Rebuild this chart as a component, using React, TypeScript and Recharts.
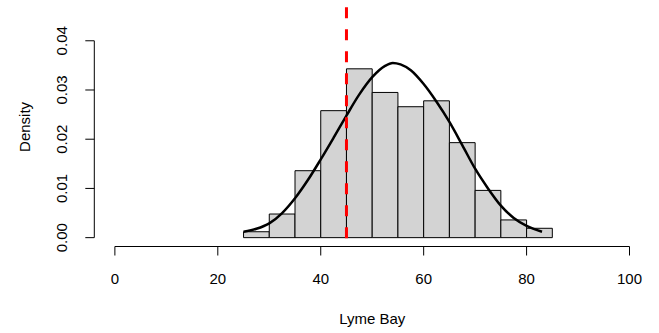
import React from 'react';
import { ComposedChart, XAxis, YAxis, Line, ReferenceArea, ReferenceLine } from 'recharts';

// Histogram bins (left edges), width 5
const binStarts = [25, 30, 35, 40, 45, 50, 55, 60, 65, 70, 75, 80];
const binWidth = 5;
const binDensity = [0.0012, 0.0048, 0.0136, 0.0258, 0.0343, 0.0295, 0.0266, 0.0278, 0.0193, 0.0096, 0.0036, 0.0019];

// Density curve
const curveX = [25, 27.5, 30, 32.5, 35, 37.5, 40, 42.5, 45, 47.5, 50, 52.5, 54, 55.5, 57.5, 60, 62.5, 65, 67.5, 70, 72.5, 75, 77.5, 80, 83];
const curveY = [0.0012, 0.0018, 0.0029, 0.005, 0.008, 0.0117, 0.0159, 0.0203, 0.0248, 0.0291, 0.0326, 0.0349, 0.0355, 0.0352, 0.034, 0.0312, 0.0276, 0.0235, 0.0188, 0.014, 0.01, 0.0065, 0.004, 0.0024, 0.0012];

const xTicks = [0, 20, 40, 60, 80, 100];
const yTicks = [0, 0.01, 0.02, 0.03, 0.04];
const meanLine = 45;
const xDomain: [number, number] = [-4, 104];
const yDomain: [number, number] = [-0.0018, 0.0468];

const curveData = curveX.map((x, i) => ({ x, d: curveY[i] }));

const FONT = '"Liberation Sans", Arial, sans-serif';
const FS = 15;

const YTick = (props: any) => {
  const { x, y, payload } = props;
  return (
    <text x={x} y={y} transform={`rotate(-90 ${x} ${y})`} textAnchor="middle" fill="#000" fontSize={FS} fontFamily={FONT}>
      {Number(payload.value).toFixed(2)}
    </text>
  );
};

const YLabel = (props: any) => {
  const vb = props.viewBox || { x: 0, y: 0, width: 0, height: 0 };
  const cx = vb.x + 30;
  const cy = vb.y + vb.height / 2;
  return (
    <text x={cx} y={cy} transform={`rotate(-90 ${cx} ${cy})`} textAnchor="middle" fill="#000" fontSize={FS} fontFamily={FONT}>
      Density
    </text>
  );
};

export default function App() {
  return (
    <div style={{ position: 'absolute', left: 0, top: 0, background: '#fff' }}>
      <ComposedChart
        width={659}
        height={333}
        data={curveData}
        margin={{ top: 7.3, right: 8.9, left: 0, bottom: 0 }}
        style={{ fontFamily: FONT }}
      >
        <XAxis
          type="number"
          dataKey="x"
          domain={xDomain}
          ticks={xTicks}
          allowDataOverflow
          axisLine={false}
          tickLine={{ stroke: '#000', strokeWidth: 1 }}
          tickSize={9}
          tickMargin={18}
          height={86.5}
          tick={{ fill: '#000', fontSize: FS, fontFamily: FONT }}
          label={{ value: 'Lyme Bay', position: 'insideBottom', offset: 9, fill: '#000', fontSize: FS, fontFamily: FONT }}
        />
        <YAxis
          type="number"
          domain={yDomain}
          ticks={yTicks}
          allowDataOverflow
          axisLine={false}
          tickLine={{ stroke: '#000', strokeWidth: 1 }}
          tickSize={9}
          tickMargin={18}
          width={94.3}
          tick={<YTick />}
          label={{ content: <YLabel /> } as any}
        />
        {binStarts.map((b, i) => (
          <ReferenceArea
            key={b}
            x1={b}
            x2={b + binWidth}
            y1={0}
            y2={binDensity[i]}
            fill="#d3d3d3"
            fillOpacity={1}
            stroke="#000"
            strokeWidth={1}
            ifOverflow="visible"
          />
        ))}
        <Line
          type="monotone"
          dataKey="d"
          stroke="#000"
          strokeWidth={2.5}
          dot={false}
          activeDot={false}
          isAnimationActive={false}
        />
        <ReferenceLine
          segment={[{ x: meanLine, y: yDomain[1] }, { x: meanLine, y: yDomain[0] }]}
          stroke="#ff0000"
          strokeWidth={3}
          strokeDasharray="11 11"
          ifOverflow="visible"
        />
        <ReferenceLine
          segment={[{ x: xTicks[0], y: yDomain[0] }, { x: xTicks[xTicks.length - 1], y: yDomain[0] }]}
          stroke="#000"
          strokeWidth={1}
          ifOverflow="visible"
        />
        <ReferenceLine
          segment={[{ x: xDomain[0], y: yTicks[0] }, { x: xDomain[0], y: yTicks[yTicks.length - 1] }]}
          stroke="#000"
          strokeWidth={1}
          ifOverflow="visible"
        />
      </ComposedChart>
    </div>
  );
}
